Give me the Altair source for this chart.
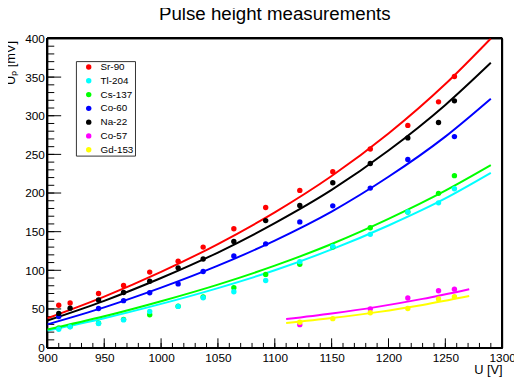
import altair as alt
import pandas as pd

sources = ["Sr-90", "Tl-204", "Cs-137", "Co-60", "Na-22", "Co-57", "Gd-153"]
colors = ["#ff0000", "#00ffff", "#00ff00", "#0000ff", "#000000", "#ff00ff", "#ffff00"]

U_all = [910, 920, 945, 967, 990, 1015, 1037, 1064, 1092, 1122, 1151, 1184, 1217, 1244, 1258]
sr90 = [54.8, 57.7, 70.0, 80.3, 97.7, 111.7, 130.0, 153.7, 181.3, 203.4, 227.6, 256.9, 287.5, 318.0, 350.7]
na22 = [44.2, 51.0, 61.6, 71.3, 85.8, 103.2, 114.6, 137.2, 164.3, 183.8, 213.3, 238.2, 271.3, 291.3, 319.3]
cs137 = [25.5, 27.2, 31.5, 36.5, 42.5, 53.5, 65.5, 77.5, 94.7, 107.8, 130.3, 155.0, 175.5, 199.6, 222.5]
tl204 = [23.8, 26.8, 31.2, 35.8, 46.7, 53.3, 64.5, 72.2, 86.8, 111.2, 131.0, 146.5, 175.4, 187.3, 205.5]

U_co60 = [910, 945, 967, 990, 1015, 1037, 1064, 1092, 1122, 1151, 1184, 1217, 1258]
co60 = [40.3, 50.5, 60.7, 70.9, 82.4, 98.5, 118.5, 134.2, 162.6, 183.4, 206.4, 243.3, 273.0]

U_co57 = [1122, 1184, 1217, 1244, 1258]
co57 = [29.7, 50.1, 64.1, 73.5, 75.6]
U_gd153 = [1122, 1151, 1184, 1217, 1244, 1258]
gd153 = [32.7, 37.4, 45.0, 50.6, 62.8, 65.8]

# ---- fitted curves ----
fit_U = [900, 950, 1000, 1050, 1100, 1150, 1200, 1250, 1290]
fit_sr90 = [38.0, 66.0, 98.0, 134.0, 175.0, 222.0, 277.0, 341.0, 400.0]
fit_na22 = [35.0, 60.5, 90.0, 123.0, 161.0, 204.0, 255.0, 314.0, 368.5]
fit_co60 = [30.0, 52.0, 77.5, 106.0, 138.5, 176.0, 221.0, 273.0, 322.0]
fit_cs137 = [23.4, 40.5, 60.0, 81.5, 106.0, 134.0, 166.5, 203.0, 236.0]
fit_tl204 = [22.0, 38.0, 56.5, 77.0, 100.0, 127.0, 158.0, 193.0, 226.0]
fit_low_U = [1110, 1150, 1190, 1230, 1271]
fit_co57 = [36.9, 44.1, 52.7, 63.0, 75.6]
fit_gd153 = [31.8, 38.2, 45.9, 55.2, 66.7]

x_major = list(range(900, 1301, 50))
x_minor = list(range(900, 1301, 10))
y_major = list(range(0, 401, 50))
y_minor = list(range(0, 401, 10))

W, H = 462, 314
colour_of = dict(zip(sources, colors))


def rows(name, us, vs):
    return [{"U": u, "V": v, "source": name, "col": colour_of[name]} for u, v in zip(us, vs)]


# drawing order of points (later on top)
pts = (rows("Sr-90", U_all, sr90) + rows("Cs-137", U_all, cs137) + rows("Tl-204", U_all, tl204)
       + rows("Co-60", U_co60, co60) + rows("Na-22", U_all, na22)
       + rows("Co-57", U_co57, co57) + rows("Gd-153", U_gd153, gd153))
points_df = pd.DataFrame(pts)

fits = (rows("Sr-90", fit_U, fit_sr90) + rows("Tl-204", fit_U, fit_tl204) + rows("Cs-137", fit_U, fit_cs137)
        + rows("Co-60", fit_U, fit_co60) + rows("Na-22", fit_U, fit_na22)
        + rows("Co-57", fit_low_U, fit_co57) + rows("Gd-153", fit_low_U, fit_gd153))
fits_df = pd.DataFrame(fits)

xt_major = pd.DataFrame({"t": x_major})
xt_minor = pd.DataFrame({"t": x_minor})
yt_major = pd.DataFrame({"t": y_major})
yt_minor = pd.DataFrame({"t": y_minor})

FONT = "Liberation Sans"
xs = alt.Scale(domain=[900, 1300], nice=False, zero=False)
ys = alt.Scale(domain=[0, 400], nice=False, zero=False)
cs = alt.Scale(domain=sources, range=colors)

XT = "U [V]"
YT = "Uₚ [mV]"
xaxis = alt.Axis(
    orient="bottom", values=x_major, format="d", ticks=False, domain=False, grid=False,
    labelFlush=False, labelOverlap=False, labelPadding=5, labelFontSize=12, labelFont=FONT,
    labelColor="black",
    titleFont=FONT, titleFontSize=13, titleFontWeight="normal", titleColor="black",
    titleAlign="right", titleX=W, titleY=26.5, titleBaseline="alphabetic")
yaxis = alt.Axis(
    orient="left", values=y_major, format="d", ticks=False, domain=False, grid=False,
    labelFlush=False, labelOverlap=False, labelPadding=3, labelFontSize=12, labelFont=FONT,
    labelColor="black",
    titleFont=FONT, titleFontSize=13, titleFontWeight="normal", titleColor="black",
    titleAngle=270, titleAlign="right", titleBaseline="top", titleX=-43, titleY=2)


def X(field):
    return alt.X(field, type="quantitative", scale=xs, title=XT, axis=xaxis)


def Y(field):
    return alt.Y(field, type="quantitative", scale=ys, title=YT, axis=yaxis)


# plot frame
frame = alt.Chart(points_df).mark_rect(fill=None, stroke="black", strokeWidth=1).encode(
    x=alt.value(0), x2=alt.value(W), y=alt.value(0), y2=alt.value(H))

# fitted curves: colour taken directly from the palette (no scale -> no extra legend)
lines = alt.Chart(fits_df).mark_line(strokeWidth=2, clip=True, interpolate="monotone").encode(
    x=X("U"), y=Y("V"),
    stroke=alt.Stroke("col:N", scale=None),
    detail="source:N",
)

points = alt.Chart(points_df).mark_circle(size=30, opacity=1).encode(
    x=X("U"), y=Y("V"),
    color=alt.Color(
        "source:N", scale=cs,
        legend=alt.Legend(
            orient="none", legendX=29, legendY=23, title=None,
            fillColor="white", strokeColor="#333333", padding=1,
            symbolOffset=7, labelOffset=7, rowPadding=4,
            symbolSize=30, symbolType="circle", symbolStrokeWidth=0,
            labelFont=FONT, labelFontSize=10, labelColor="black",
            labelExpr="datum.label + '           '",
        ),
    ),
)

# inward tick marks, positioned by the scales
ytick_major = alt.Chart(yt_major).mark_rule(color="black", strokeWidth=1).encode(
    y=Y("t"), x=alt.value(0), x2=alt.value(14))
ytick_minor = alt.Chart(yt_minor).mark_rule(color="black", strokeWidth=1).encode(
    y=Y("t"), x=alt.value(0), x2=alt.value(7))
xtick_major = alt.Chart(xt_major).mark_rule(color="black", strokeWidth=1).encode(
    x=X("t"), y=alt.value(H), y2=alt.value(H - 9.4))
xtick_minor = alt.Chart(xt_minor).mark_rule(color="black", strokeWidth=1).encode(
    x=X("t"), y=alt.value(H), y2=alt.value(H - 4.7))

chart = alt.layer(frame, ytick_minor, ytick_major, xtick_minor, xtick_major, lines, points).properties(
    width=W, height=H,
    background="white",
    autosize=alt.AutoSizeParams(type="none"),
    padding={"left": 40, "top": 28, "right": 12, "bottom": 31},
    title=alt.TitleParams("Pulse height measurements", font=FONT, fontSize=19, fontWeight="normal",
                          color="black", anchor="middle", offset=9),
).configure_view(stroke="black", strokeWidth=1)

chart.save("out.html", embed_options={"renderer": "svg", "actions": False})
